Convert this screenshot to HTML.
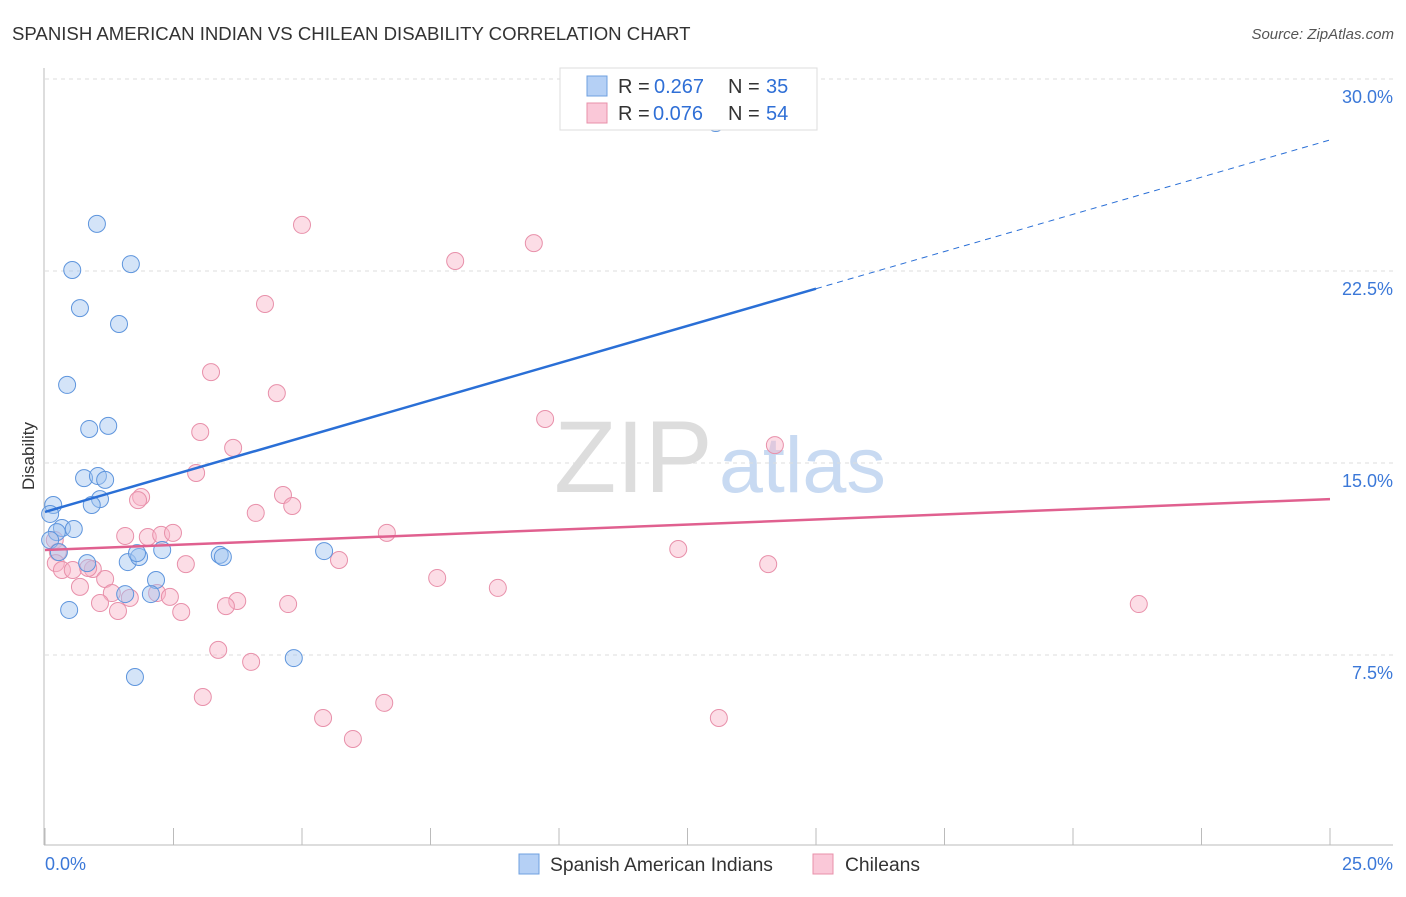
<!DOCTYPE html>
<html><head><meta charset="utf-8"><style>
body{margin:0;background:#fff;font-family:"Liberation Sans",sans-serif}
svg text{font-family:"Liberation Sans",sans-serif}
</style></head><body>
<svg id="c" width="1406" height="892">
<text x="12" y="40" font-size="18.6" fill="#333">SPANISH AMERICAN INDIAN VS CHILEAN DISABILITY CORRELATION CHART</text>
<text x="1394" y="39" font-size="15" fill="#555" font-style="italic" text-anchor="end">Source: ZipAtlas.com</text>
<g><text x="554" y="492" font-size="102" font-family="Liberation Serif" fill="#ddd">ZIP</text><text x="719" y="492" font-size="79" fill="#c8daf2">atlas</text></g>
<g id="grid"></g><g id="axes"></g><g id="pts"></g><g id="trend"></g>
<text transform="translate(34,456) rotate(-90)" font-size="17" fill="#333" text-anchor="middle">Disability</text>
<g>
<rect x="560" y="68" width="257" height="62" fill="#fff" stroke="#ddd"/>
<rect x="587" y="76" width="20" height="20" fill="#b5d0f5" stroke="#6fa0e0"/>
<rect x="587" y="103" width="20" height="20" fill="#fac8d8" stroke="#e890aa"/>
<text x="618" y="93" font-size="20" fill="#333">R =</text><text x="654" y="93" font-size="20" fill="#2f6fd6">0.267</text>
<text x="728" y="93" font-size="20" fill="#333">N =</text><text x="766" y="93" font-size="20" fill="#2f6fd6">35</text>
<text x="618" y="120" font-size="20" fill="#333">R =</text><text x="653" y="120" font-size="20" fill="#2f6fd6">0.076</text>
<text x="728" y="120" font-size="20" fill="#333">N =</text><text x="766" y="120" font-size="20" fill="#2f6fd6">54</text>
</g>
<g>
<rect x="519" y="854" width="20" height="20" fill="#b5d0f5" stroke="#6fa0e0"/>
<text x="550" y="871" font-size="19.3" fill="#333">Spanish American Indians</text>
<rect x="813" y="854" width="20" height="20" fill="#fac8d8" stroke="#e890aa"/>
<text x="845" y="871" font-size="19.3" fill="#333">Chileans</text>
</g>
</svg>
<script>
const yTicks=[7.5,15,22.5,30];
const yTickLabels=["7.5%","15.0%","22.5%","30.0%"];
const blueX=[1.01,0.53,1.67,0.68,1.44,0.43,0.86,1.23,0.76,1.03,1.17,1.07,0.91,0.16,0.10,0.33,0.56,0.23,0.10,0.27,0.82,1.61,1.83,1.79,2.28,3.40,3.46,2.16,1.56,2.06,0.47,1.75,4.84,5.43,13.05];
const blueY=[24.34,22.54,22.77,21.05,20.43,18.05,16.33,16.45,14.41,14.49,14.34,13.59,13.36,13.36,13.01,12.46,12.42,12.30,11.99,11.52,11.09,11.13,11.33,11.48,11.60,11.41,11.33,10.43,9.88,9.88,9.26,6.64,7.38,11.56,28.28];
const pinkX=[5.00,9.51,7.98,4.28,3.23,4.51,9.73,3.02,14.20,3.66,2.94,1.87,1.81,4.63,4.81,4.10,6.65,1.56,2.00,2.26,2.49,0.19,0.25,5.72,12.32,2.74,14.07,0.21,0.33,0.54,0.93,0.84,1.17,7.63,0.68,8.81,1.30,1.65,2.18,2.43,1.07,3.74,3.52,4.73,21.28,1.42,2.65,3.37,4.01,3.07,6.60,5.41,13.11,5.99];
const pinkY=[24.30,23.59,22.89,21.21,18.55,17.73,16.72,16.21,15.70,15.59,14.61,13.67,13.55,13.75,13.32,13.05,12.27,12.15,12.11,12.19,12.27,11.99,11.52,11.21,11.64,11.05,11.05,11.09,10.82,10.82,10.86,10.90,10.47,10.51,10.16,10.12,9.92,9.73,9.92,9.77,9.53,9.61,9.41,9.49,9.49,9.22,9.18,7.70,7.23,5.86,5.63,5.04,5.04,4.22];
const blueTrend=[13.09,27.62];
const pinkTrend=[11.60,13.59];
const NS="http://www.w3.org/2000/svg";
const X=v=>45+v/25*1285, Y=v=>847-v/7.5*192;
function mk(p,t,a){const e=document.createElementNS(NS,t);for(const k in a)e.setAttribute(k,a[k]);p.appendChild(e);return e;}
const grid=document.getElementById('grid'),axes=document.getElementById('axes');
yTicks.forEach((t,i)=>{
 const l=mk(grid,'line',{x1:45,x2:1393,y1:Y(t),y2:Y(t),stroke:'#ddd','stroke-dasharray':'4,4'});
 
 
 const tx=mk(grid,'text',{x:1393,y:Y(t)+24,'font-size':18,fill:'#3b78d8','text-anchor':'end'});
 tx.textContent=yTickLabels[i];
 
 
});
mk(axes,'line',{x1:44,x2:44,y1:68,y2:845,stroke:'#bbb'});
mk(axes,'line',{x1:44,x2:1393,y1:845,y2:845,stroke:'#bbb'});
for(let i=0;i<=10;i++){const l=mk(axes,'line',{x1:X(i*2.5),x2:X(i*2.5),y1:828,y2:845,stroke:'#bbb'});
 
 }
const x0=mk(axes,'text',{x:45,y:870,'font-size':18,fill:'#3b78d8'});x0.textContent='0.0%';


const x1=mk(axes,'text',{x:1393,y:870,'font-size':18,fill:'#3b78d8','text-anchor':'end'});x1.textContent='25.0%';


const pts=document.getElementById('pts');
pinkX.forEach((x,i)=>{const c=mk(pts,'circle',{cx:X(x),cy:Y(pinkY[i]),r:8.5,fill:'rgba(248,180,200,0.45)',stroke:'#e890aa','stroke-width':1});
 
 });
blueX.forEach((x,i)=>{const c=mk(pts,'circle',{cx:X(x),cy:Y(blueY[i]),r:8.5,fill:'rgba(160,196,240,0.45)',stroke:'#5e95dd','stroke-width':1});
 
 });
const tr=document.getElementById('trend');
const bAt=x=>blueTrend[0]+(blueTrend[1]-blueTrend[0])*x/25;
const b1=mk(tr,'line',{x1:X(0),y1:Y(bAt(0)),x2:X(15),y2:Y(bAt(15)),stroke:'#2a6fd6','stroke-width':2.5});


const b2=mk(tr,'line',{x1:X(15),y1:Y(bAt(15)),x2:X(25),y2:Y(bAt(25)),stroke:'#2a6fd6','stroke-width':1,'stroke-dasharray':'6,5'});


const p1=mk(tr,'line',{x1:X(0),y1:Y(pinkTrend[0]),x2:X(25),y2:Y(pinkTrend[1]),stroke:'#e0608f','stroke-width':2.5});


</script>
</body></html>
